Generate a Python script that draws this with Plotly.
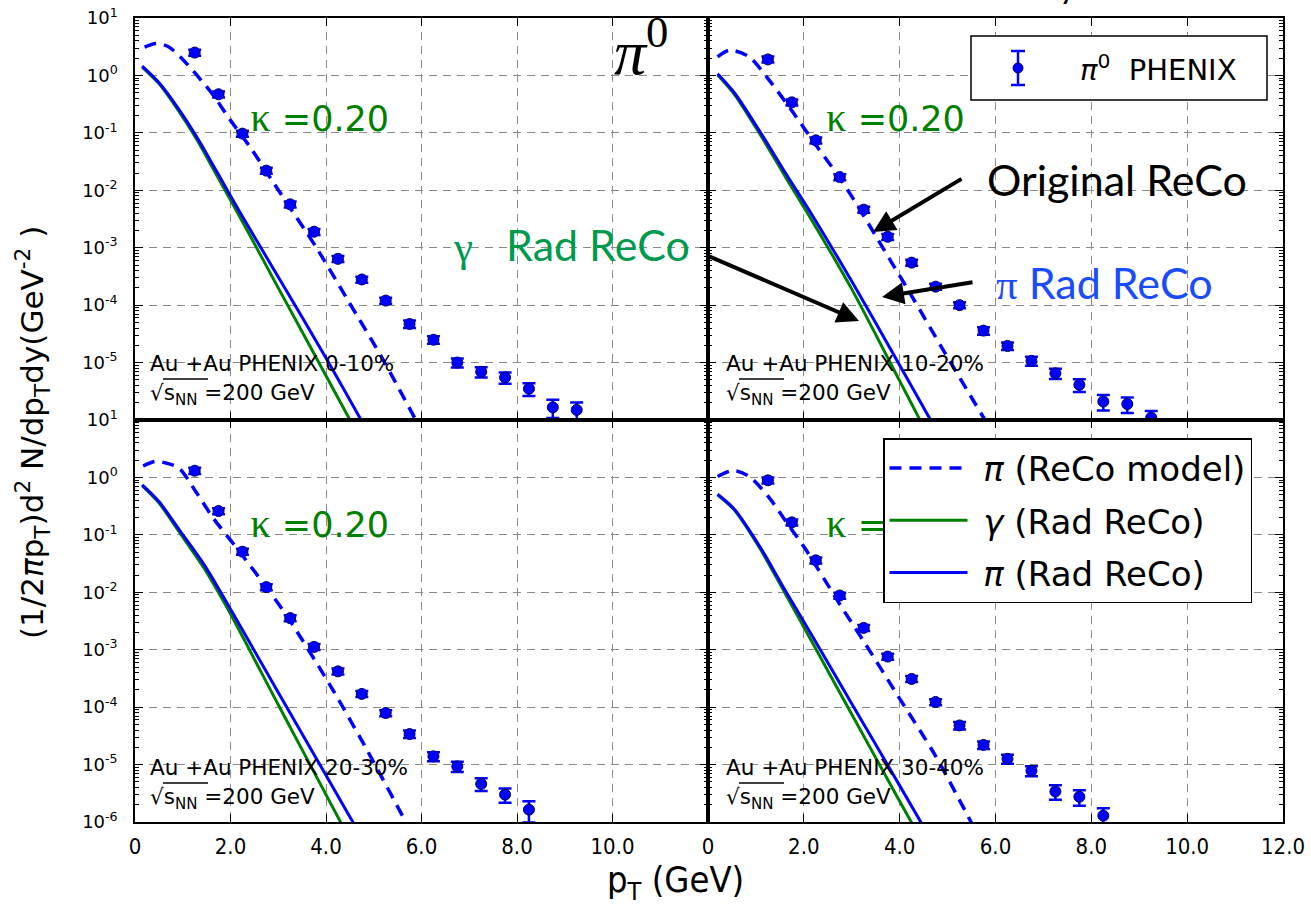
import plotly.graph_objects as go
from plotly.subplots import make_subplots

W, H = 1311, 909

# ---------------- data ----------------
pt_data = [1.25, 1.75, 2.25, 2.75, 3.25, 3.75, 4.25, 4.75, 5.25,
           5.75, 6.25, 6.75, 7.25, 7.75, 8.25, 8.75, 9.25, 9.75]

# PHENIX pi0 invariant yields (GeV^-2) per centrality class
phenix_0_10 = [2.5, 0.47, 0.097, 0.022, 5.7e-3, 1.9e-3, 6.4e-4, 2.8e-4, 1.2e-4,
               4.7e-5, 2.5e-5, 1.0e-5, 6.9e-6, 5.5e-6, 3.5e-6, 1.66e-6, 1.5e-6, 7.5e-7]
phenix_10_20 = [1.9, 0.34, 0.074, 0.017, 4.6e-3, 1.55e-3, 5.5e-4, 2.1e-4, 1.0e-4,
                3.6e-5, 1.95e-5, 1.07e-5, 6.5e-6, 4.1e-6, 2.1e-6, 1.9e-6, 1.1e-6]
phenix_20_30 = [1.31, 0.26, 0.051, 0.0123, 3.55e-3, 1.12e-3, 4.2e-4, 1.7e-4, 7.9e-5,
                3.4e-5, 1.39e-5, 9.3e-6, 4.6e-6, 3.0e-6, 1.64e-6]
phenix_30_40 = [0.89, 0.165, 0.036, 8.8e-3, 2.4e-3, 7.6e-4, 3.1e-4, 1.23e-4, 4.8e-5,
                2.2e-5, 1.26e-5, 7.8e-6, 3.4e-6, 2.75e-6, 1.29e-6]

# relative uncertainties
err_0_10 = [0.12, 0.12, 0.12, 0.12, 0.12, 0.12, 0.12, 0.12, 0.12,
            0.15, 0.15, 0.18, 0.2, 0.22, 0.25, 0.35, 0.35, 0.33]
err_10_20 = [0.12, 0.12, 0.12, 0.12, 0.12, 0.12, 0.12, 0.12, 0.12,
             0.15, 0.15, 0.18, 0.2, 0.25, 0.3, 0.3, 0.3]
err_20_30 = [0.12, 0.12, 0.12, 0.12, 0.12, 0.12, 0.12, 0.12, 0.12,
             0.15, 0.18, 0.2, 0.25, 0.28, 0.4]
err_30_40 = [0.12, 0.12, 0.12, 0.12, 0.12, 0.12, 0.12, 0.12, 0.15,
             0.15, 0.18, 0.2, 0.28, 0.3, 0.35]

# ReCo model pion spectra (dashed)
reco_pt_0_10 = [0.2, 0.45, 0.7, 0.95, 1.3, 1.65, 2.0, 2.4, 2.9, 3.2, 3.8, 4.45, 5.2, 5.95]
reco_0_10 = [3.1, 3.6, 3.15, 2.1, 1.0, 0.44, 0.165, 0.058, 0.0136, 0.0057,
             1.0e-3, 1.25e-4, 1.1e-5, 7.8e-7]
reco_pt_10_20 = [0.2, 0.45, 0.86, 1.28, 1.77, 2.26, 2.76, 3.25, 3.5, 4.24, 4.9, 5.85]
reco_10_20 = [2.1, 2.75, 2.1, 0.82, 0.23, 0.06, 0.016, 3.6e-3, 1.6e-3,
              1.5e-4, 1.7e-5, 8e-7]
reco_pt_20_30 = [0.17, 0.42, 0.65, 0.92, 1.29, 1.64, 2.13, 2.6, 3.16, 4.08, 4.8, 5.7]
reco_20_30 = [1.58, 1.9, 1.78, 1.45, 0.54, 0.195, 0.059, 0.018, 4.1e-3,
              2.45e-4, 2.2e-5, 9e-7]
reco_pt_30_40 = [0.2, 0.53, 0.86, 1.28, 1.65, 2.02, 2.76, 3.25, 3.99, 4.73, 5.55]
reco_30_40 = [1.04, 1.32, 1.04, 0.44, 0.16, 0.059, 6e-3, 1.4e-3, 1.45e-4,
              1.5e-5, 8e-7]

# radiative ReCo: photon (green) and pion (blue) spectra
rad_pt_0_10 = [0.15, 0.5, 0.9, 1.3, 1.7, 2.2, 3.0, 4.0, 4.8]
gamma_rad_0_10 = [1.4, 0.72, 0.25, 0.075, 0.019, 3.4e-3, 2.0e-4, 5.9e-6, 3.5e-7]
pi_rad_0_10 = [1.45, 0.75, 0.27, 0.083, 0.022, 4.1e-3, 3.1e-4, 1.2e-5, 8e-7]

rad_pt_10_20 = [0.2, 0.55, 1.1, 1.6, 2.2, 3.0, 4.0, 4.75]
gamma_rad_10_20 = [1.02, 0.47, 0.09, 0.018, 2.7e-3, 1.9e-4, 4.8e-6, 3e-7]
pi_rad_10_20 = [1.07, 0.5, 0.1, 0.021, 3.4e-3, 2.6e-4, 9e-6, 7e-7]

rad_pt_20_30 = [0.15, 0.5, 0.95, 1.45, 1.95, 3.0, 4.0, 4.7]
gamma_rad_20_30 = [0.72, 0.36, 0.105, 0.026, 5e-3, 1.1e-4, 3e-6, 2.4e-7]
pi_rad_20_30 = [0.74, 0.38, 0.115, 0.030, 6e-3, 1.8e-4, 6.5e-6, 6.3e-7]

rad_pt_30_40 = [0.2, 0.55, 1.1, 1.6, 2.2, 3.0, 4.0, 4.6]
gamma_rad_30_40 = [0.50, 0.27, 0.055, 9.9e-3, 1.23e-3, 7.5e-5, 2.3e-6, 2.9e-7]
pi_rad_30_40 = [0.51, 0.28, 0.059, 0.0112, 1.6e-3, 1.15e-4, 4.3e-6, 5.9e-7]

centrality_labels = ["0-10%", "10-20%", "20-30%", "30-40%"]
kappa_text = "κ"
kappa_value = "=0.20"

x_ticks = [0, 2, 4, 6, 8, 10, 12]
x_ticktext_left = ["0", "2.0", "4.0", "6.0", "8.0", "10.0", ""]
x_ticktext_right = ["0", "2.0", "4.0", "6.0", "8.0", "10.0", "12.0"]
y_exponents = [1, 0, -1, -2, -3, -4, -5, -6]

# ---------------- styling ----------------
BLUE = "#0000ff"
GREEN = "#008000"
SANS = "DejaVu Sans"
NARROW = "Liberation Sans Narrow, DejaVu Sans Condensed, DejaVu Sans"
CALLOUT = "Lato"

panels = [
    (1, 1, phenix_0_10, err_0_10, reco_pt_0_10, reco_0_10, rad_pt_0_10, gamma_rad_0_10, pi_rad_0_10),
    (1, 2, phenix_10_20, err_10_20, reco_pt_10_20, reco_10_20, rad_pt_10_20, gamma_rad_10_20, pi_rad_10_20),
    (2, 1, phenix_20_30, err_20_30, reco_pt_20_30, reco_20_30, rad_pt_20_30, gamma_rad_20_30, pi_rad_20_30),
    (2, 2, phenix_30_40, err_30_40, reco_pt_30_40, reco_30_40, rad_pt_30_40, gamma_rad_30_40, pi_rad_30_40),
]

# kappa label anchor (pT, yield) in each panel
kappa_pos = [(2.42, 0.15), (2.47, 0.15), (2.42, 0.13), (2.47, 0.13)]

fig = make_subplots(rows=2, cols=2, horizontal_spacing=0, vertical_spacing=0)

for i, (r, c, yd, er, rpt, rval, gpt, gval, pval) in enumerate(panels):
    first = i == 0
    pts = pt_data[:len(yd)]
    # kappa label, kept in the plot layer so the legend box can cover it
    fig.add_trace(go.Scatter(
        x=[kappa_pos[i][0]], y=[kappa_pos[i][1]], mode="text",
        text=["<span style='font-family:Liberation Serif;font-size:40px'>%s</span> %s" % (kappa_text, kappa_value)],
        textposition="middle right",
        textfont=dict(family=SANS, size=35, color=GREEN),
        showlegend=False, hoverinfo="skip",
    ), row=r, col=c)
    fig.add_trace(go.Scatter(
        x=pts, y=yd, mode="markers",
        marker=dict(symbol="circle", size=11, color=BLUE, line=dict(color="#000060", width=1)),
        error_y=dict(type="data", array=[v * e for v, e in zip(yd, er)],
                     color=BLUE, thickness=2.5, width=6.5),
        name="π0 PHENIX", showlegend=False,
    ), row=r, col=c)
    fig.add_trace(go.Scatter(
        x=rpt, y=rval, mode="lines",
        line=dict(color=BLUE, width=3.5, dash="12px,8px", shape="spline", smoothing=0.8),
        name="\u00a0<i>π</i> (ReCo model)", legend="legend2", legendgroup="reco", showlegend=first,
    ), row=r, col=c)
    fig.add_trace(go.Scatter(
        x=gpt, y=gval, mode="lines",
        line=dict(color=GREEN, width=3, shape="spline", smoothing=0.8),
        name="\u00a0<i>γ</i> (Rad ReCo)", legend="legend2", legendgroup="gam", showlegend=first,
    ), row=r, col=c)
    fig.add_trace(go.Scatter(
        x=gpt, y=pval, mode="lines",
        line=dict(color=BLUE, width=3, shape="spline", smoothing=0.8),
        name="\u00a0<i>π</i> (Rad ReCo)", legend="legend2", legendgroup="pirad", showlegend=first,
    ), row=r, col=c)

# ---------------- axes ----------------
xL = [135 / W, 708 / W]
xR = [708 / W, 1283 / W]
yT = [1 - 420 / H, 1 - 18 / H]
yB = [1 - 822 / H, 1 - 420 / H]

y_tickvals = [10.0 ** k for k in y_exponents]
y_text_full = ["10<sup>%d</sup>" % k for k in y_exponents]
y_text_top = y_text_full[:-1] + [""]
minor_vals = [m * 10.0 ** k for k in range(-6, 1) for m in range(2, 10)]

axis_common = dict(showline=True, linecolor="black", linewidth=1.5, mirror="allticks",
                   ticks="inside", tickcolor="black", ticklen=8, tickwidth=1,
                   showgrid=True, gridcolor="#8a8a8a", gridwidth=1, griddash="8px,6px",
                   zeroline=False, automargin=False)

for idx, (xd, yd, row, col) in enumerate([(xL, yT, 1, 1), (xR, yT, 1, 2), (xL, yB, 2, 1), (xR, yB, 2, 2)]):
    n = "" if idx == 0 else str(idx + 1)
    fig.layout["xaxis" + n].update(
        domain=xd, range=[0, 12], tickmode="array", tickvals=x_ticks,
        ticktext=x_ticktext_left if col == 1 else x_ticktext_right,
        showticklabels=(row == 2), tickfont=dict(family=NARROW, size=22, color="black"),
        ticklabelstandoff=4, **axis_common)
    fig.layout["yaxis" + n].update(
        domain=yd, type="log", range=[-6, 1], tickmode="array", tickvals=y_tickvals,
        ticktext=y_text_top if row == 1 else y_text_full,
        showticklabels=(col == 1), tickfont=dict(family=SANS, size=18, color="black"),
        ticklabelstandoff=12,
        minor=dict(ticks="inside", ticklen=4, tickcolor="black", tickmode="array",
                   tickvals=minor_vals, showgrid=False),
        **axis_common)

# ---------------- text ----------------
def px(x):
    return x / W


def py(y):
    return 1 - y / H


annotations = []
shapes = []

# centrality / energy labels
label_pos = [(148, 363), (724, 363), (148, 767), (724, 767)]
for (lx, ly), lab in zip(label_pos, centrality_labels):
    annotations.append(dict(x=px(lx), y=py(ly), xref="paper", yref="paper",
                            xanchor="left", yanchor="middle", showarrow=False,
                            text="Au +Au PHENIX " + lab,
                            font=dict(family=SANS, size=21.5, color="black")))
    annotations.append(dict(x=px(lx), y=py(ly + 31), xref="paper", yref="paper",
                            xanchor="left", yanchor="middle", showarrow=False,
                            text="√s<sub>NN</sub> =200 GeV",
                            font=dict(family=SANS, size=21.5, color="black")))
    # vinculum of the square root
    shapes.append(dict(type="line", xref="paper", yref="paper",
                       x0=px(lx + 15), x1=px(lx + 60), y0=py(ly + 16), y1=py(ly + 16),
                       line=dict(color="black", width=1.5)))

# cut-off heading text at the top edge
annotations.append(dict(x=px(1068), y=py(7), xref="paper", yref="paper",
                        xanchor="center", yanchor="bottom", showarrow=False,
                        text="y", font=dict(family=CALLOUT, size=34, color="black")))

# pi0 tag
annotations.append(dict(x=px(641), y=py(47), xref="paper", yref="paper",
                        xanchor="center", yanchor="middle", showarrow=False,
                        text="<i>π</i><sup>0</sup>",
                        font=dict(family="Liberation Serif", size=64, color="black")))

# curve call-outs
annotations.append(dict(x=px(985), y=py(180), xref="paper", yref="paper",
                        xanchor="left", yanchor="middle", showarrow=False,
                        text="Original ReCo", font=dict(family=CALLOUT, size=43, color="black")))
annotations.append(dict(x=px(994), y=py(283), xref="paper", yref="paper",
                        xanchor="left", yanchor="middle", showarrow=False,
                        text="<span style='font-family:Liberation Serif'>π</span> Rad ReCo",
                        font=dict(family=CALLOUT, size=43, color="#1a4cff")))
annotations.append(dict(x=px(692), y=py(245), xref="paper", yref="paper",
                        xanchor="right", yanchor="middle", showarrow=False,
                        text="<span style='font-family:Liberation Serif'>γ</span>\u00a0\u00a0\u00a0Rad ReCo",
                        font=dict(family=CALLOUT, size=43, color="#009a4e")))

for (tx, ty), (hx, hy) in [((963, 178), (873, 232)),
                           ((974, 282), (882, 297)),
                           ((706, 255), (859, 321))]:
    annotations.append(dict(x=px(hx), y=py(hy), xref="paper", yref="paper",
                            ax=tx - hx, ay=ty - hy, axref="pixel", ayref="pixel",
                            text="", showarrow=True, arrowhead=2, arrowsize=1.1,
                            arrowwidth=4, arrowcolor="black", standoff=0))

# data legend box (error-bar glyph + label)
lg_x0, lg_y0, lg_x1, lg_y1 = 971, 36, 1267, 100
gx, gy = 1018, 68
shapes += [
    dict(type="rect", xref="paper", yref="paper", x0=px(lg_x0), x1=px(lg_x1),
         y0=py(lg_y1), y1=py(lg_y0), fillcolor="white", line=dict(color="black", width=1.5)),
    dict(type="line", xref="paper", yref="paper", x0=px(gx), x1=px(gx),
         y0=py(gy + 17), y1=py(gy - 17), line=dict(color=BLUE, width=2.5)),
    dict(type="line", xref="paper", yref="paper", x0=px(gx - 7), x1=px(gx + 7),
         y0=py(gy - 17), y1=py(gy - 17), line=dict(color=BLUE, width=2.5)),
    dict(type="line", xref="paper", yref="paper", x0=px(gx - 7), x1=px(gx + 7),
         y0=py(gy + 17), y1=py(gy + 17), line=dict(color=BLUE, width=2.5)),
    dict(type="circle", xref="paper", yref="paper", x0=px(gx - 5), x1=px(gx + 5),
         y0=py(gy + 5), y1=py(gy - 5), fillcolor=BLUE, line=dict(color="#000060", width=1)),
]
annotations.append(dict(x=px(1078), y=py(gy), xref="paper", yref="paper",
                        xanchor="left", yanchor="middle", showarrow=False,
                        text="<i>π</i><sup>0</sup>  PHENIX",
                        font=dict(family=SANS, size=29, color="black")))

# axis titles
annotations.append(dict(x=px(33), y=py(433), xref="paper", yref="paper",
                        xanchor="center", yanchor="middle", showarrow=False, textangle=-90,
                        text="(1/2<i>π</i>p<sub>T</sub>)d<sup>2</sup> N/dp<sub>T</sub>dy(GeV<sup>-2</sup> )",
                        font=dict(family=SANS, size=31, color="black")))
annotations.append(dict(x=px(675), y=py(882), xref="paper", yref="paper",
                        xanchor="center", yanchor="middle", showarrow=False,
                        text="p<sub>T</sub> (GeV)",
                        font=dict(family=NARROW, size=36, color="black")))

fig.update_layout(
    width=W, height=H, margin=dict(l=0, r=0, t=0, b=0),
    paper_bgcolor="white", plot_bgcolor="white",
    annotations=annotations, shapes=shapes,
    legend2=dict(x=px(883), y=py(438), xanchor="left", yanchor="top",
                 bgcolor="white", bordercolor="black", borderwidth=1.5,
                 font=dict(family=SANS, size=34, color="black"), itemwidth=78,
                 tracegroupgap=5),
)

fig.write_html("out.html")
